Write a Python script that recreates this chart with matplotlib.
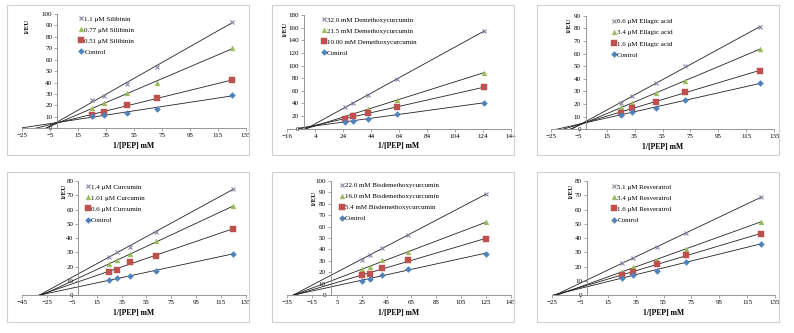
import matplotlib
matplotlib.use('Agg')
import matplotlib.pyplot as plt
from matplotlib.lines import Line2D
from matplotlib.patches import Rectangle
import numpy as np

plt.rcParams['font.family'] = ['Liberation Serif', 'DejaVu Serif']

# 1/[PEP] values (mM^-1)
x_a = [25, 33.3, 50, 71.4, 125]
x_b = [25, 31.25, 41.7, 62.5, 125]

# Silibinin
sil_11 = [24.5, 28.5, 39, 54, 93]
sil_077 = [17.5, 22, 31, 40, 70]
sil_051 = [12, 14.5, 20, 26.5, 42]
sil_ctrl = [10.5, 11.7, 13.7, 17.2, 29]

# Demethoxycurcumin
dmc_32 = [34, 41, 53, 78, 155]
dmc_215 = [18, 24, 31, 46, 88.5]
dmc_10 = [15.3, 20, 24.3, 33.8, 66]
dmc_ctrl = [11, 12.7, 15.3, 22.7, 41]

# Ellagic acid
ea_66 = [20.5, 26, 37, 50, 81]
ea_34 = [17.4, 21, 28.5, 38, 64]
ea_16 = [12.7, 17.2, 22, 29.6, 46.5]
ea_ctrl = [11.3, 14, 17.2, 23.2, 36.4]

# Curcumin
cur_14 = [27, 30, 34, 44.4, 74.4]
cur_101 = [21.5, 24.5, 28.5, 38, 62.2]
cur_06 = [16.4, 17.8, 23.2, 27.6, 46.5]
cur_ctrl = [10.3, 11.9, 13.3, 17.1, 29]

# Bisdemethoxycurcumin
bdmc_22 = [31, 35, 41.4, 53, 88.3]
bdmc_16 = [22.7, 24.8, 30.3, 37.3, 64]
bdmc_54 = [17.2, 18.7, 23.3, 30.6, 49.3]
bdmc_ctrl = [12.5, 14, 17.5, 22.7, 36.4]

# Resveratrol
res_51 = [22.2, 26.2, 33.7, 43.3, 68.8]
res_34 = [15.9, 19.9, 24.6, 32.3, 51.5]
res_16 = [14, 15.9, 21.8, 28.1, 43]
res_ctrl = [12.2, 14, 16.8, 23.4, 36]

labels_sil = ['1.1 μM Silibinin', '0.77 μM Silibinin', '0.51 μM Silibinin', 'Control']
labels_dmc = ['32.0 mM Demethoxycurcumin', '21.5 mM Demethoxycurcumin',
              '10.00 mM Demethoxycurcumin', 'Control']
labels_ea = ['6.6 μM Ellagic acid', '3.4 μM Ellagic acid', '1.6 μM Ellagic acid', 'Control']
labels_cur = ['1.4 μM Curcumin', '1.01 μM Curcumin', '0.6 μM Curcumin', 'Control']
labels_bdmc = ['22.0 mM Bisdemethoxycurcumin', '16.0 mM Bisdemethoxycurcumin',
               '5.4 mM Bisdemethoxycurcumin', 'Control']
labels_res = ['5.1 μM Resveratrol', '3.4 μM Resveratrol', '1.6 μM Resveratrol', 'Control']

markers = ['x', '^', 's', 'D']
colors = ['#8C84A8', '#9BBB59', '#C0504D', '#4F81BD']
sizes = [3.5, 3.5, 3.8, 3.0]

# panel: (x, series, labels, xmin, xmax, ymax, ystep, line start, y-axis cross,
#         axes rect, legend anchor, ylabel pos)
panels = [
    (x_a, [sil_11, sil_077, sil_051, sil_ctrl], labels_sil, -25, 135, 100, 10, -25, 0,
     [0.0281, 0.6147, 0.2814, 0.3432], (0.255, 0.985), (0.019, 0.895)),
    (x_b, [dmc_32, dmc_215, dmc_10, dmc_ctrl], labels_dmc, -16, 144, 180, 20, -8, -4,
     [0.3618, 0.6135, 0.2814, 0.3414], (0.155, 0.985), (-0.012, 0.877)),
    (x_a, [ea_66, ea_34, ea_16, ea_ctrl], labels_ea, -25, 135, 90, 10, -25, 0,
     [0.6936, 0.6117, 0.2816, 0.3411], (0.272, 0.975), (0.083, 0.918)),
    (x_b, [cur_14, cur_101, cur_06, cur_ctrl], labels_cur, -45, 135, 80, 10, -45, 0,
     [0.0281, 0.1141, 0.2814, 0.3423], (0.283, 0.975), (0.186, 0.906)),
    (x_b, [bdmc_22, bdmc_16, bdmc_54, bdmc_ctrl], labels_bdmc, -35, 145, 100, 10, -35, 0,
     [0.3618, 0.1141, 0.2814, 0.3423], (0.235, 0.99), (0.118, 0.85)),
    (x_a, [res_51, res_34, res_16, res_ctrl], labels_res, -25, 135, 80, 10, -25, 0,
     [0.6952, 0.1141, 0.2809, 0.3423], (0.27, 0.975), (0.083, 0.912)),
]

fig = plt.figure(figsize=(7.94, 3.33), dpi=100)

# light grey chart-area frames
for bx in [7, 272, 537]:
    for by in [5, 172]:
        fig.patches.append(Rectangle((bx / 794, 1 - (by + 150) / 333), 242 / 794, 150 / 333,
                                     transform=fig.transFigure, fill=False,
                                     edgecolor='#D0D0D0', lw=0.8))

for (xv, series, labels, xmin, xmax, ymax, ystep, x0, xcross,
     rect, leg_pos, yl_pos) in panels:
    ax = fig.add_axes(rect)
    xs = np.array(xv)
    handles = []
    for ys, m, c, s in zip(series, markers, colors, sizes):
        k, b = np.polyfit(xs, ys, 1)
        xl = np.array([x0, xs[-1]])
        ax.plot(xl, k * xl + b, color='#222222', lw=0.6, zorder=2)
        ax.plot(xs, ys, linestyle='none', marker=m, color=c, ms=s,
                mew=0.8 if m == 'x' else 0.3, zorder=3)
        handles.append(Line2D([], [], linestyle='none', marker=m, color=c, ms=s,
                              mew=0.8 if m == 'x' else 0.3))
    ax.set_xlim(xmin, xmax)
    ax.set_ylim(0, ymax)
    ax.set_xticks(np.arange(xmin, xmax + 1, 20))
    ax.set_yticks(np.arange(0, ymax + 1, ystep))
    ax.spines['left'].set_position(('data', xcross))
    for sp in ['top', 'right']:
        ax.spines[sp].set_visible(False)
    for sp in ['left', 'bottom']:
        ax.spines[sp].set_color('#868686')
        ax.spines[sp].set_linewidth(0.6)
    ax.tick_params(labelsize=5, length=2, width=0.5, color='#868686', pad=1.5)
    ax.patch.set_alpha(0)
    ax.set_xlabel('1/[PEP] mM', fontsize=5.5, fontweight='bold')
    ax.xaxis.set_label_coords(0.5, -0.12)
    ax.text(yl_pos[0], yl_pos[1], '1/EU', transform=ax.transAxes, rotation=90,
            fontsize=5, fontweight='bold', ha='center', va='center')
    ax.legend(handles, labels, loc='upper left', bbox_to_anchor=leg_pos, frameon=False,
              fontsize=5, handlelength=0.6, handletextpad=0.15, labelspacing=0.75,
              borderpad=0, borderaxespad=0)

fig.savefig('out.png', dpi=100)
